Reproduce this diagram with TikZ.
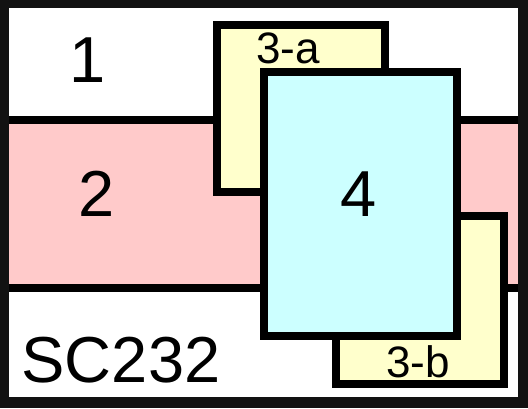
\documentclass[tikz,border=0pt]{standalone}
\usepackage{fontspec}
\setmainfont{Liberation Sans}
\definecolor{frame}{HTML}{121212}
\definecolor{pinkc}{HTML}{FFCACA}
\definecolor{yellowc}{HTML}{FFFFCC}
\definecolor{cyanc}{HTML}{CCFFFF}
\tikzset{
  boxr/.style={draw=black, line width=8.5pt, inner sep=0pt, outer sep=0pt},
  rowline/.style={draw=black, line width=8.5pt},
  big/.style={anchor=base, inner sep=0pt, font=\fontsize{65}{65}\selectfont},
  small/.style={anchor=base, inner sep=0pt, font=\fontsize{44}{44}\selectfont},
}
\begin{document}
\begin{tikzpicture}[x=1pt, y=-1pt]
\useasboundingbox (0,0) rectangle (528,408);
\fill[frame] (0,0) rectangle (528,408);
\fill[white] (9,8) rectangle (518,397);
\fill[pinkc] (9,120) rectangle (518,288);
\coordinate (l1a) at (9,120);
\coordinate (l1b) at (518,120);
\coordinate (l2a) at (9,288);
\coordinate (l2b) at (518,288);
\draw[rowline] (l1a) -- (l1b);
\draw[rowline] (l2a) -- (l2b);
\node[boxr, fill=yellowc, minimum width=168pt, minimum height=167pt] (r3a) at (301,108.5) {};
\node[boxr, fill=yellowc, minimum width=168pt, minimum height=168pt] (r3b) at (420,300) {};
\node[boxr, fill=cyanc, minimum width=193pt, minimum height=264pt] (r4) at (360.5,204) {};
\node[big] (t1) at (88,82) {1};
\node[big] (t2) at (97,216) {2};
\node[big] (t4) at (359,216) {4};
\node[big] (tsc) at (121,382) {SC232};
\node[small] (t3a) at (288,63) {3-a};
\node[small] (t3b) at (418,377) {3-b};
\end{tikzpicture}
\end{document}
